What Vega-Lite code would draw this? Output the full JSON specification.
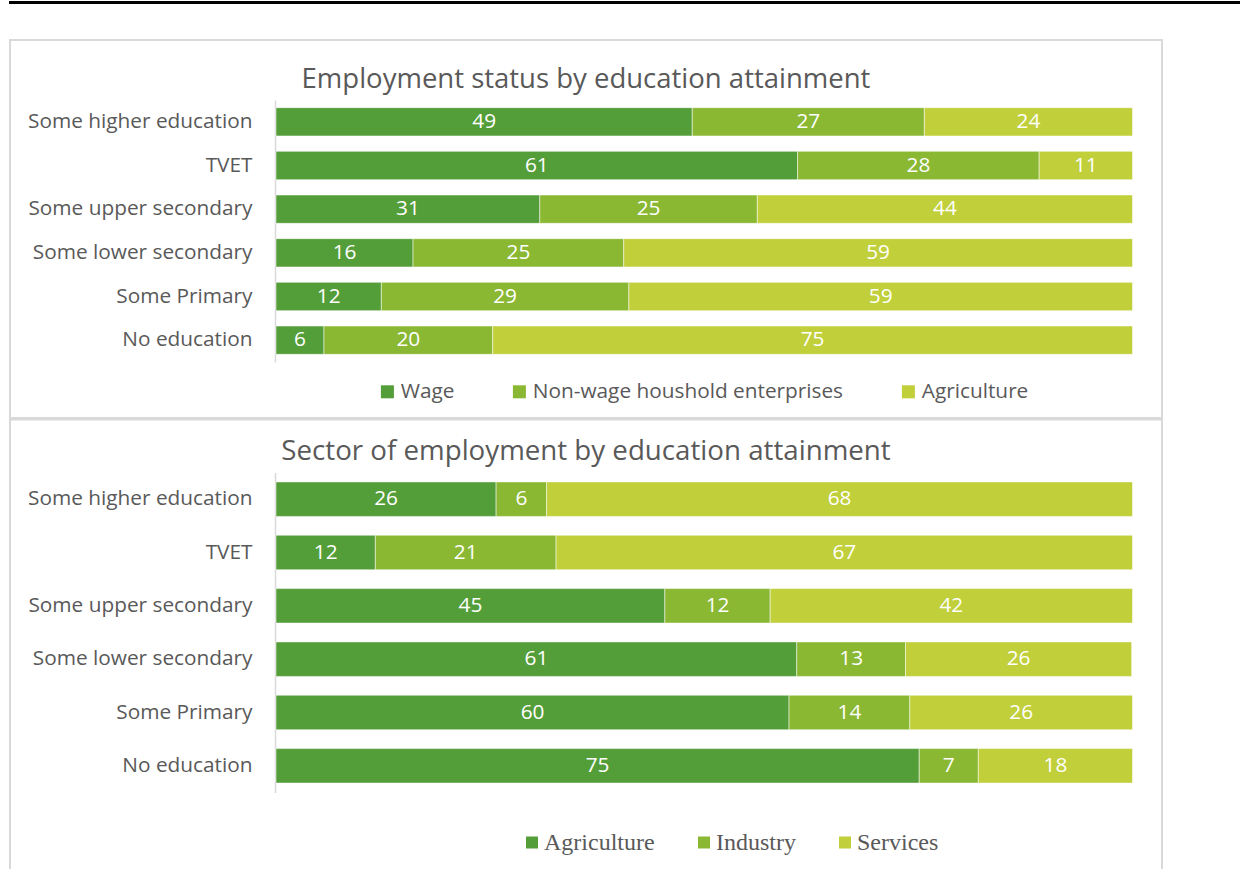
{
  "$schema": "https://vega.github.io/schema/vega-lite/v6.json",
  "background": "white",
  "padding": {"left": 9, "top": 1, "right": 0, "bottom": 0},
  "config": {"font": "Open Sans", "view": {"stroke": null}},
  "datasets": {
    "status": [
      {"education": "Some higher education", "category": "Wage", "order": 1, "value": 48.6},
      {"education": "Some higher education", "category": "Non-wage houshold enterprises", "order": 2, "value": 27.1},
      {"education": "Some higher education", "category": "Agriculture", "order": 3, "value": 24.3},
      {"education": "TVET", "category": "Wage", "order": 1, "value": 60.9},
      {"education": "TVET", "category": "Non-wage houshold enterprises", "order": 2, "value": 28.2},
      {"education": "TVET", "category": "Agriculture", "order": 3, "value": 10.9},
      {"education": "Some upper secondary", "category": "Wage", "order": 1, "value": 30.8},
      {"education": "Some upper secondary", "category": "Non-wage houshold enterprises", "order": 2, "value": 25.4},
      {"education": "Some upper secondary", "category": "Agriculture", "order": 3, "value": 43.8},
      {"education": "Some lower secondary", "category": "Wage", "order": 1, "value": 16.0},
      {"education": "Some lower secondary", "category": "Non-wage houshold enterprises", "order": 2, "value": 24.6},
      {"education": "Some lower secondary", "category": "Agriculture", "order": 3, "value": 59.4},
      {"education": "Some Primary", "category": "Wage", "order": 1, "value": 12.3},
      {"education": "Some Primary", "category": "Non-wage houshold enterprises", "order": 2, "value": 28.9},
      {"education": "Some Primary", "category": "Agriculture", "order": 3, "value": 58.8},
      {"education": "No education", "category": "Wage", "order": 1, "value": 5.6},
      {"education": "No education", "category": "Non-wage houshold enterprises", "order": 2, "value": 19.7},
      {"education": "No education", "category": "Agriculture", "order": 3, "value": 74.7}
    ],
    "sector": [
      {"education": "Some higher education", "category": "Agriculture", "order": 1, "value": 25.7},
      {"education": "Some higher education", "category": "Industry", "order": 2, "value": 5.9},
      {"education": "Some higher education", "category": "Services", "order": 3, "value": 68.4},
      {"education": "TVET", "category": "Agriculture", "order": 1, "value": 11.6},
      {"education": "TVET", "category": "Industry", "order": 2, "value": 21.1},
      {"education": "TVET", "category": "Services", "order": 3, "value": 67.3},
      {"education": "Some upper secondary", "category": "Agriculture", "order": 1, "value": 45.4},
      {"education": "Some upper secondary", "category": "Industry", "order": 2, "value": 12.3},
      {"education": "Some upper secondary", "category": "Services", "order": 3, "value": 42.3},
      {"education": "Some lower secondary", "category": "Agriculture", "order": 1, "value": 60.8},
      {"education": "Some lower secondary", "category": "Industry", "order": 2, "value": 12.7},
      {"education": "Some lower secondary", "category": "Services", "order": 3, "value": 26.4},
      {"education": "Some Primary", "category": "Agriculture", "order": 1, "value": 59.9},
      {"education": "Some Primary", "category": "Industry", "order": 2, "value": 14.1},
      {"education": "Some Primary", "category": "Services", "order": 3, "value": 26.0},
      {"education": "No education", "category": "Agriculture", "order": 1, "value": 75.1},
      {"education": "No education", "category": "Industry", "order": 2, "value": 6.9},
      {"education": "No education", "category": "Services", "order": 3, "value": 18.0}
    ]
  },
  "spacing": 37,
  "bounds": "flush",
  "resolve": {"scale": {"x": "independent", "y": "independent", "color": "independent"}, "legend": {"color": "independent"}},
  "vconcat": [
    {
      "width": 1240,
      "height": 1,
      "view": {"fill": "#000000", "stroke": "#000000", "strokeWidth": 2},
      "data": {"values": [{"a": 1}]},
      "mark": {"type": "text", "fontSize": 1, "baseline": "top", "align": "left"},
      "encoding": {"text": {"value": " "}}
    },
    {
      "spacing": 1.5,
      "bounds": "flush",
      "resolve": {"scale": {"x": "independent", "y": "independent", "color": "independent"}, "legend": {"color": "independent"}},
      "vconcat": [
        {
          "width": 1152,
          "height": 378,
          "view": {"stroke": "#D9D9D9", "strokeWidth": 2},
          "data": {"name": "status"},
          "title": {"text": "Employment status by education attainment", "font": "Open Sans", "fontSize": 27.5, "fontWeight": "normal", "color": "#595959", "anchor": "middle", "baseline": "alphabetic", "offset": -75},
          "transform": [
            {"stack": "value", "groupby": ["education"], "sort": [{"field": "order", "order": "ascending"}], "as": ["v0", "v1"]}
          ],
          "encoding": {
            "y": {
              "field": "education", "type": "nominal",
              "sort": ["Some higher education", "TVET", "Some upper secondary", "Some lower secondary", "Some Primary", "No education"],
              "scale": {"range": [60, 322], "paddingInner": 0.352, "paddingOuter": 0.176},
              "axis": {"title": null, "orient": "left", "offset": -265, "ticks": false, "domainColor": "#D9D9D9", "domainWidth": 1.5, "labelFont": "Open Sans", "labelFontSize": 20.8, "labelColor": "#595959", "labelPadding": 23, "labelLimit": 400}
            }
          },
          "layer": [
            {
              "mark": {"type": "bar", "stroke": "#FFFFFF", "strokeWidth": 1, "strokeOpacity": 0.5},
              "encoding": {
                "x": {"field": "v0", "type": "quantitative", "scale": {"domain": [0, 100], "range": [266, 1122.5]}, "axis": null},
                "x2": {"field": "v1"},
                "color": {
                  "field": "category", "type": "nominal",
                  "scale": {"domain": ["Wage", "Non-wage houshold enterprises", "Agriculture"], "range": ["#549E39", "#8AB833", "#C0CF3A"]},
                  "legend": {"orient": "none", "legendX": 367, "legendY": 341, "direction": "horizontal", "title": null, "padding": 0, "symbolType": "square", "symbolSize": 169, "symbolStrokeWidth": 0, "labelFont": "Open Sans", "labelFontSize": 20.8, "labelColor": "#595959", "labelOffset": 3, "columnPadding": 54, "labelLimit": 600}
                }
              }
            },
            {
              "transform": [
                {"fold": ["v0", "v1"], "as": ["k", "pos"]},
                {"aggregate": [{"op": "mean", "field": "pos", "as": "mid"}], "groupby": ["education", "category", "value"]}
              ],
              "mark": {"type": "text", "color": "#FFFFFF", "font": "Open Sans", "fontSize": 20.8, "align": "center", "baseline": "middle"},
              "encoding": {
                "x": {"field": "mid", "type": "quantitative", "scale": {"domain": [0, 100], "range": [266, 1122.5]}, "axis": null},
                "text": {"field": "value", "type": "quantitative", "format": ".0f"}
              }
            }
          ]
        },
        {
          "width": 1152,
          "height": 470,
          "view": {"stroke": "#D9D9D9", "strokeWidth": 2},
          "data": {"name": "sector"},
          "title": {"text": "Sector of employment by education attainment", "font": "Open Sans", "fontSize": 27.7, "fontWeight": "normal", "color": "#595959", "anchor": "middle", "baseline": "alphabetic", "offset": -68},
          "transform": [
            {"stack": "value", "groupby": ["education"], "sort": [{"field": "order", "order": "ascending"}], "as": ["v0", "v1"]}
          ],
          "encoding": {
            "y": {
              "field": "education", "type": "nominal",
              "sort": ["Some higher education", "TVET", "Some upper secondary", "Some lower secondary", "Some Primary", "No education"],
              "scale": {"range": [53, 373], "paddingInner": 0.353, "paddingOuter": 0.1765},
              "axis": {"title": null, "orient": "left", "offset": -265, "ticks": false, "domainColor": "#D9D9D9", "domainWidth": 1.5, "labelFont": "Open Sans", "labelFontSize": 20.8, "labelColor": "#595959", "labelPadding": 23, "labelLimit": 400}
            }
          },
          "layer": [
            {
              "mark": {"type": "bar", "stroke": "#FFFFFF", "strokeWidth": 1, "strokeOpacity": 0.5},
              "encoding": {
                "x": {"field": "v0", "type": "quantitative", "scale": {"domain": [0, 100], "range": [266, 1122.5]}, "axis": null},
                "x2": {"field": "v1"},
                "color": {
                  "field": "category", "type": "nominal",
                  "scale": {"domain": ["Agriculture", "Industry", "Services"], "range": ["#549E39", "#8AB833", "#C0CF3A"]},
                  "legend": {"orient": "none", "legendX": 510, "legendY": 411, "direction": "horizontal", "title": null, "padding": 0, "symbolType": "square", "symbolSize": 144, "symbolStrokeWidth": 0, "labelFont": "Liberation Serif", "labelFontSize": 24, "labelColor": "#595959", "labelOffset": 0, "columnPadding": 37, "labelLimit": 600}
                }
              }
            },
            {
              "transform": [
                {"fold": ["v0", "v1"], "as": ["k", "pos"]},
                {"aggregate": [{"op": "mean", "field": "pos", "as": "mid"}], "groupby": ["education", "category", "value"]}
              ],
              "mark": {"type": "text", "color": "#FFFFFF", "font": "Open Sans", "fontSize": 20.8, "align": "center", "baseline": "middle"},
              "encoding": {
                "x": {"field": "mid", "type": "quantitative", "scale": {"domain": [0, 100], "range": [266, 1122.5]}, "axis": null},
                "text": {"field": "value", "type": "quantitative", "format": ".0f"}
              }
            }
          ]
        }
      ]
    }
  ]
}
